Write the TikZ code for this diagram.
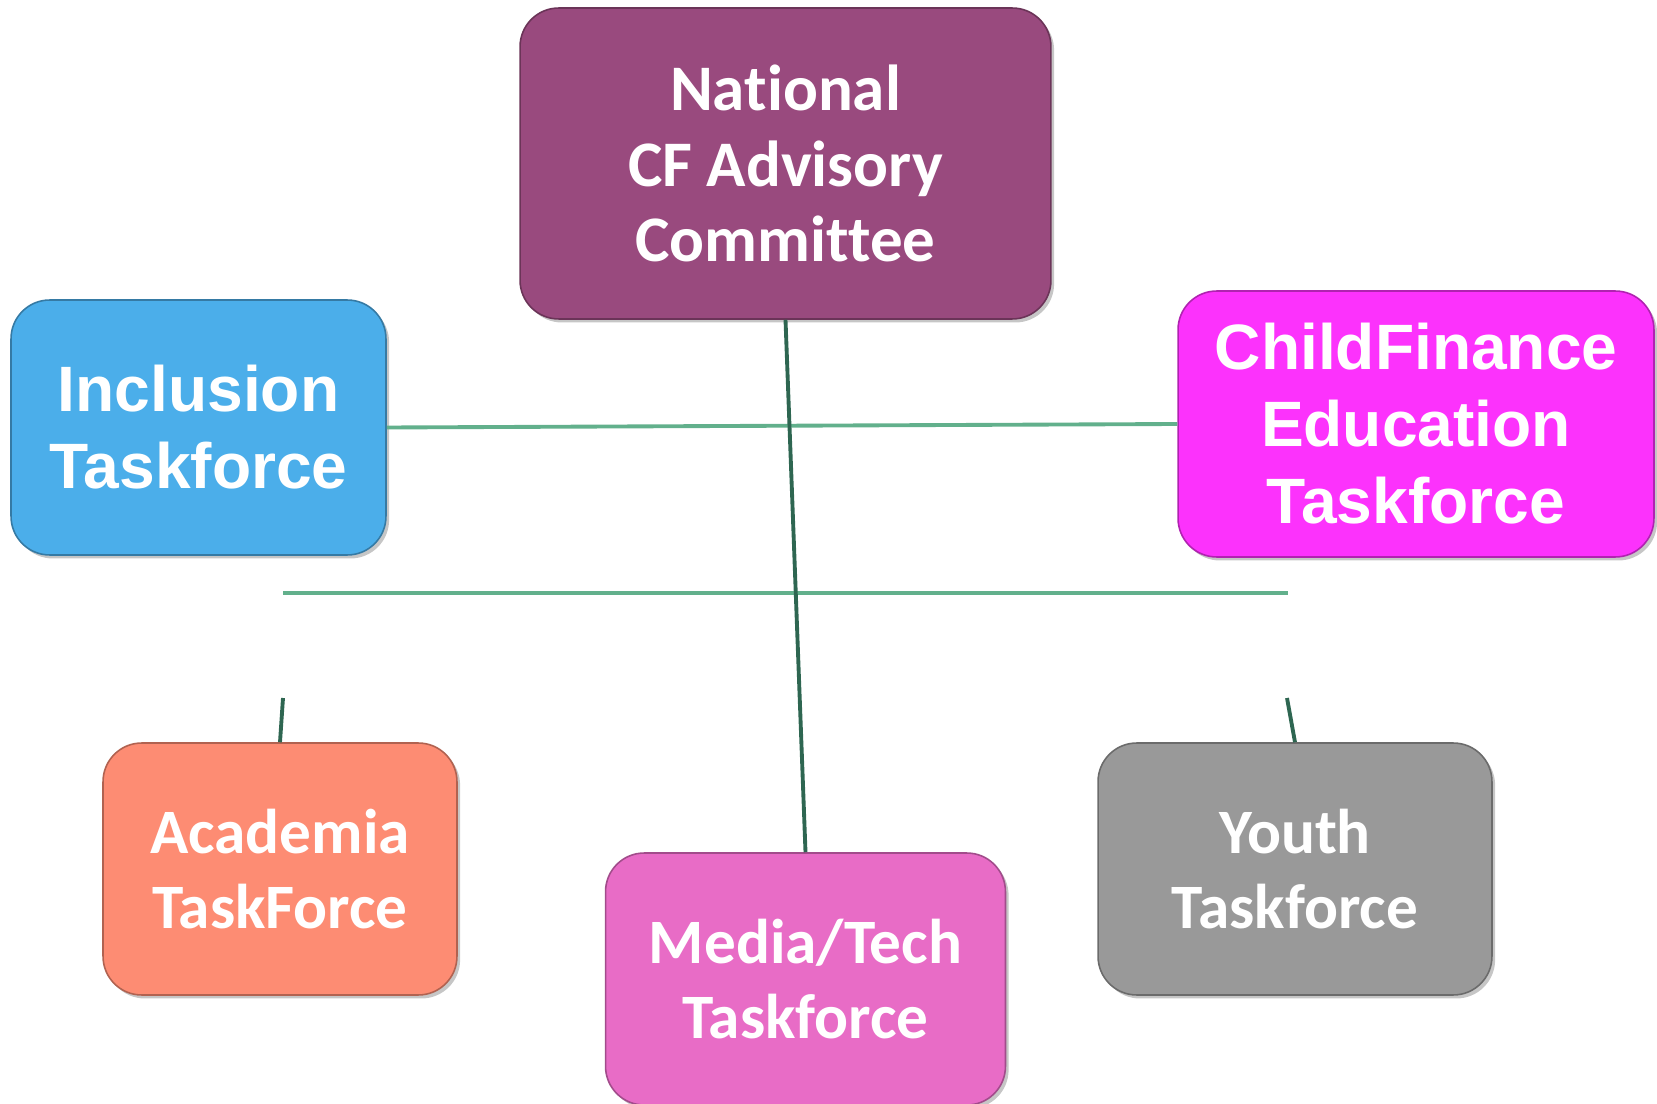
\documentclass[tikz,border=0pt]{standalone}
\usepackage{fontspec}
\usepackage{tikz}
\usetikzlibrary{shadows}
\newfontfamily\calibri{Carlito}[Ligatures=NoCommon]
\newfontfamily\arial{Liberation Sans}
\definecolor{natcol}{RGB}{153,74,126}
\definecolor{inclcol}{RGB}{75,174,234}
\definecolor{cfecol}{RGB}{252,50,252}
\definecolor{acadcol}{RGB}{253,140,115}
\definecolor{mediacol}{RGB}{232,108,198}
\definecolor{youthcol}{RGB}{153,153,153}
\definecolor{linklight}{RGB}{98,176,140}
\definecolor{linkdark}{RGB}{46,102,81}

\begin{document}
\begin{tikzpicture}[x=0.02cm,y=-0.02cm,
		box/.style={rounded corners=22pt,draw=#1!70!black,line width=0.9pt,fill=#1,
			text=white,align=center,inner sep=0pt,
			drop shadow={opacity=0.45,shadow xshift=1.8pt,shadow yshift=-2pt}},
		calfont/.style={font=\calibri\bfseries\fontsize{36}{42.7}\selectfont},
		arfont/.style={font=\arial\bfseries\fontsize{36.5}{43.8}\selectfont},
		hlink/.style={draw=linklight,line width=2.2pt},
		vlink/.style={draw=linkdark,line width=2.2pt}]
				\useasboundingbox (0,0) rectangle (1657,1104);
				\coordinate (L) at (283,593);
				\coordinate (R) at (1288,593);
				\coordinate (SL) at (283,698);
				\coordinate (SR) at (1287,698);
				\draw[hlink] (L) -- (R);
				\node[box=natcol,calfont,font=\calibri\bfseries\fontsize{37}{43}\selectfont,minimum width=10.62cm,minimum height=6.22cm] (nat) at (785.5,163.5) {National\\CF Advisory\\Committee};
				\node[box=inclcol,arfont,minimum width=7.5cm,minimum height=5.1cm] (incl) at (198.5,427.5) {Inclusion\\Taskforce};
				\node[box=cfecol,arfont,minimum width=9.52cm,minimum height=5.32cm] (cfe) at (1416,424) {ChildFinance\\Education\\Taskforce};
				\node[box=acadcol,calfont,minimum width=7.08cm,minimum height=5.04cm] (acad) at (280,869) {Academia\\TaskForce};
				\node[box=mediacol,calfont,minimum width=8cm,minimum height=5.04cm] (media) at (805.5,979) {Media/Tech\\Taskforce};
				\node[box=youthcol,calfont,minimum width=7.88cm,minimum height=5.04cm] (youth) at (1295,869) {Youth\\Taskforce};
				\draw[hlink] (incl.east) -- (cfe.west);
				\draw[vlink] (nat.south) -- (media.north);
				\draw[vlink] (SL) -- (acad.north);
				\draw[vlink] (SR) -- (youth.north);
			\end{tikzpicture}
\end{document}
